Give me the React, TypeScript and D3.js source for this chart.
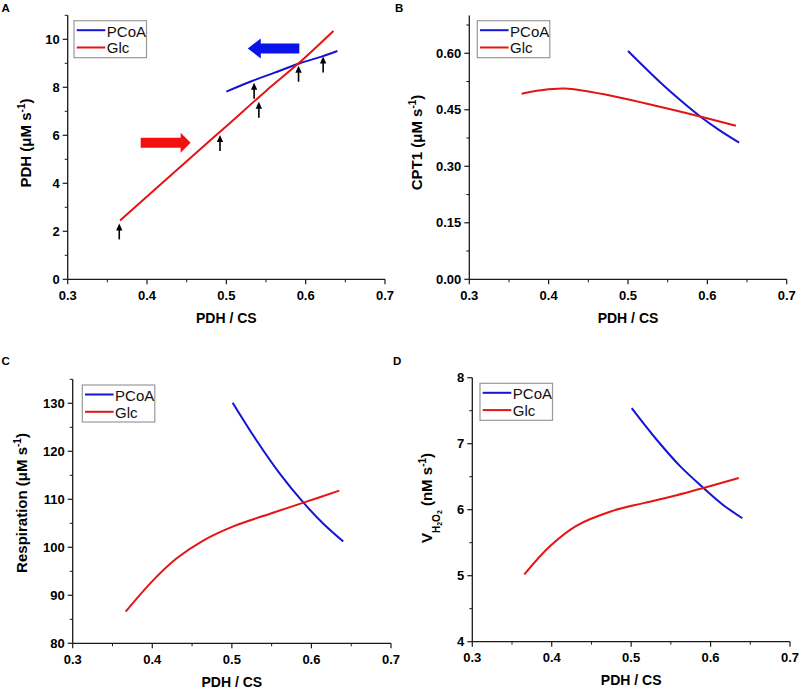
import React from "react";
import * as d3 from "d3";

// ---------- data ----------
const xTicks = [0.3, 0.4, 0.5, 0.6, 0.7];
const xMinorTicks = [0.35, 0.45, 0.55, 0.65];
const seriesNames = ["PCoA", "Glc"];
const xTitle = "PDH / CS";

// Panel A: PDH
const aPcoaX = [0.5, 0.53, 0.56, 0.591, 0.62, 0.64];
const aPcoaY = [7.82, 8.23, 8.6, 8.98, 9.28, 9.51];
const aGlcX = [0.366, 0.45, 0.5, 0.55, 0.591, 0.635];
const aGlcY = [2.45, 4.92, 6.38, 7.85, 9.0, 10.35];
const aYTicks = [0, 2, 4, 6, 8, 10];
const aYMinor = [1, 3, 5, 7, 9, 11];
const aYDomain = [0, 11];
const markerArrowX = [0.365, 0.492, 0.535, 0.541, 0.591, 0.622];
const markerArrowTipY = [2.33, 6.01, 8.19, 7.4, 8.9, 9.28];
const shiftArrowFromX = [0.392, 0.592];
const shiftArrowToX = [0.455, 0.527];
const shiftArrowY = [5.69, 9.62];

// Panel B: CPT1
const bPcoaX = [0.5, 0.5405, 0.565, 0.591, 0.615, 0.64];
const bPcoaY = [0.606, 0.523, 0.477, 0.432, 0.396, 0.363];
const bGlcX = [0.366, 0.39, 0.4207, 0.4774, 0.528, 0.591, 0.636];
const bGlcY = [0.4925, 0.502, 0.5066, 0.488, 0.464, 0.432, 0.4075];
const bYTicks = [0, 0.15, 0.3, 0.45, 0.6];
const bYMinor = [0.075, 0.225, 0.375, 0.525, 0.675];
const bYDomain = [0, 0.7];

// Panel C: Respiration
const cPcoaX = [0.501, 0.53, 0.56, 0.59, 0.615, 0.64];
const cPcoaY = [130.1, 122.5, 115.4, 109.3, 104.9, 101.2];
const cGlcX = [0.3666, 0.401, 0.4307, 0.464, 0.5018, 0.548, 0.59, 0.635];
const cGlcY = [86.6, 93.1, 97.7, 101.4, 104.35, 107.0, 109.3, 111.8];
const cYTicks = [80, 90, 100, 110, 120, 130];
const cYMinor = [85, 95, 105, 115, 125, 135];
const cYDomain = [80, 135];

// Panel D: V H2O2
const dPcoaX = [0.5007, 0.5322, 0.5616, 0.591, 0.615, 0.64];
const dPcoaY = [7.54, 7.06, 6.66, 6.33, 6.08, 5.87];
const dGlcX = [0.3655, 0.398, 0.4315, 0.4734, 0.5154, 0.5574, 0.591, 0.6355];
const dGlcY = [5.02, 5.45, 5.76, 5.97, 6.1, 6.22, 6.33, 6.48];
const dYTicks = [4, 5, 6, 7, 8];
const dYMinor = [4.5, 5.5, 6.5, 7.5];
const dYDomain = [4, 8];

// ---------- style ----------
const BLUE = "#1414d4";
const RED = "#e41414";
const ARROW_BLUE = "#0a14e8";
const ARROW_RED = "#f21010";
const FONT = "'Liberation Sans', Arial, sans-serif";

type PanelSpec = {
  letter: string;
  letterX: number;
  letterY: number;
  left: number;
  right: number;
  top: number;
  bottom: number;
  yDomain: number[];
  yTicks: number[];
  yMinor: number[];
  fmt: (v: number) => string;
  yTitleX: number;
  yTitleCY: number;
  yTitle: React.ReactNode;
  pcoa: [number[], number[]];
  glc: [number[], number[]];
  legendX: number;
  legendY: number;
  extras?: boolean;
};

const zip = (xs: number[], ys: number[]) => xs.map((v, i) => [v, ys[i]] as [number, number]);

const muTitle = (name: string) => (
  <>
    {name} (μM s
    <tspan dy={-6} fontSize={10}>-1</tspan>
    <tspan dy={6}>)</tspan>
  </>
);

const vTitle = (
  <>
    V
    <tspan dy={8} fontSize={10}>H</tspan>
    <tspan dy={2} fontSize={7}>2</tspan>
    <tspan dy={-2} fontSize={10}>O</tspan>
    <tspan dy={2} fontSize={7}>2</tspan>
    <tspan dy={-10}> (nM s</tspan>
    <tspan dy={-6} fontSize={10}>-1</tspan>
    <tspan dy={6}>)</tspan>
  </>
);

const panels: PanelSpec[] = [
  {
    letter: "A", letterX: 1.5, letterY: 12,
    left: 67.7, right: 385, top: 15.3, bottom: 279.3,
    yDomain: aYDomain, yTicks: aYTicks, yMinor: aYMinor, fmt: (v) => String(v),
    yTitleX: 31, yTitleCY: 143, yTitle: muTitle("PDH"),
    pcoa: [aPcoaX, aPcoaY], glc: [aGlcX, aGlcY],
    legendX: 74, legendY: 20.7, extras: true,
  },
  {
    letter: "B", letterX: 395, letterY: 12,
    left: 469.3, right: 786.7, top: 15.6, bottom: 279.3,
    yDomain: bYDomain, yTicks: bYTicks, yMinor: bYMinor, fmt: d3.format(".2f"),
    yTitleX: 421.5, yTitleCY: 142.5, yTitle: muTitle("CPT1"),
    pcoa: [bPcoaX, bPcoaY], glc: [bGlcX, bGlcY],
    legendX: 477.3, legendY: 20.7,
  },
  {
    letter: "C", letterX: 1.5, letterY: 365,
    left: 72.7, right: 391, top: 379.3, bottom: 643.3,
    yDomain: cYDomain, yTicks: cYTicks, yMinor: cYMinor, fmt: (v) => String(v),
    yTitleX: 27, yTitleCY: 503, yTitle: muTitle("Respiration"),
    pcoa: [cPcoaX, cPcoaY], glc: [cGlcX, cGlcY],
    legendX: 82.3, legendY: 385,
  },
  {
    letter: "D", letterX: 393, letterY: 365,
    left: 472.3, right: 790, top: 377.7, bottom: 641.7,
    yDomain: dYDomain, yTicks: dYTicks, yMinor: dYMinor, fmt: (v) => String(v),
    yTitleX: 431.5, yTitleCY: 498, yTitle: vTitle,
    pcoa: [dPcoaX, dPcoaY], glc: [dGlcX, dGlcY],
    legendX: 480, legendY: 383.3,
  },
];

function Panel({ p }: { p: PanelSpec }) {
  const x = d3.scaleLinear().domain([0.3, 0.7]).range([p.left, p.right]);
  const y = d3.scaleLinear().domain(p.yDomain).range([p.bottom, p.top]);
  const line = d3
    .line<[number, number]>()
    .x((d) => x(d[0]))
    .y((d) => y(d[1]))
    .curve(d3.curveCatmullRom.alpha(0.5));
  const axisColor = "#1a1a1a";
  const majorLen = 5;
  const minorLen = 3;
  const colors = [BLUE, RED];
  const series = [p.pcoa, p.glc];

  return (
    <g>
      <text x={p.letterX} y={p.letterY} fontSize={11.5} fontWeight="bold" fontFamily={FONT}>
        {p.letter}
      </text>
      {series.map((s, i) => (
        <path key={i} d={line(zip(s[0], s[1])) || ""} fill="none" stroke={colors[i]} strokeWidth={2} />
      ))}
      <line x1={p.left} x2={p.right} y1={p.bottom} y2={p.bottom} stroke={axisColor} strokeWidth={1.3} />
      <line x1={p.left} x2={p.left} y1={p.bottom} y2={y(p.yDomain[1])} stroke={axisColor} strokeWidth={1.3} />
      {xTicks.map((t) => (
        <g key={"xt" + t}>
          <line x1={x(t)} x2={x(t)} y1={p.bottom} y2={p.bottom + majorLen} stroke={axisColor} strokeWidth={1.2} />
          <text x={x(t)} y={p.bottom + 20.5} textAnchor="middle" fontSize={13} fontWeight="bold" fontFamily={FONT}>
            {t.toFixed(1)}
          </text>
        </g>
      ))}
      {xMinorTicks.map((t) => (
        <line key={"xm" + t} x1={x(t)} x2={x(t)} y1={p.bottom} y2={p.bottom + minorLen} stroke={axisColor} strokeWidth={1} />
      ))}
      {p.yTicks.map((t) => (
        <g key={"yt" + t}>
          <line x1={p.left - majorLen} x2={p.left} y1={y(t)} y2={y(t)} stroke={axisColor} strokeWidth={1.2} />
          <text x={p.left - 8} y={y(t)} dy="0.36em" textAnchor="end" fontSize={13} fontWeight="bold" fontFamily={FONT}>
            {p.fmt(t)}
          </text>
        </g>
      ))}
      {p.yMinor.map((t) => (
        <line key={"ym" + t} x1={p.left - minorLen} x2={p.left} y1={y(t)} y2={y(t)} stroke={axisColor} strokeWidth={1} />
      ))}
      <text
        x={(p.left + p.right) / 2}
        y={p.bottom + 43.7}
        textAnchor="middle"
        fontSize={14}
        fontWeight="bold"
        fontFamily={FONT}
      >
        {xTitle}
      </text>
      <text
        transform={`translate(${p.yTitleX},${p.yTitleCY}) rotate(-90)`}
        textAnchor="middle"
        fontSize={15}
        fontWeight="bold"
        fontFamily={FONT}
      >
        {p.yTitle}
      </text>
      <g transform={`translate(${p.legendX},${p.legendY})`}>
        <rect x={0} y={0} width={72.5} height={37} fill="white" stroke="#9a9a9a" strokeWidth={1.2} />
        {seriesNames.map((n, i) => (
          <g key={n}>
            <line x1={2.7} x2={31.3} y1={9.5 + i * 17.3} y2={9.5 + i * 17.3} stroke={colors[i]} strokeWidth={2} />
            <text x={32.8} y={16 + i * 16.8} fontSize={15} fontFamily={FONT} fill="#111">
              {n}
            </text>
          </g>
        ))}
      </g>
      {p.extras &&
        markerArrowX.map((ax, i) => {
          const tx = x(ax);
          const ty = y(markerArrowTipY[i]);
          return (
            <g key={"ma" + i}>
              <line x1={tx} x2={tx} y1={ty + 5} y2={ty + 16} stroke="#000" strokeWidth={1.6} />
              <path d={`M${tx},${ty} L${tx - 3.2},${ty + 7} L${tx + 3.2},${ty + 7} Z`} fill="#000" />
            </g>
          );
        })}
      {p.extras &&
        shiftArrowFromX.map((fx, i) => {
          const x0 = x(fx);
          const x1 = x(shiftArrowToX[i]);
          const cy = y(shiftArrowY[i]);
          const dir = x1 > x0 ? 1 : -1;
          const headLen = dir > 0 ? 10 : 13;
          const hb = x1 - dir * headLen;
          const d = `M${x0},${cy - 5} L${hb},${cy - 5} L${hb},${cy - 10} L${x1},${cy} L${hb},${cy + 10} L${hb},${cy + 5} L${x0},${cy + 5} Z`;
          return <path key={"sa" + i} d={d} fill={dir > 0 ? ARROW_RED : ARROW_BLUE} />;
        })}
    </g>
  );
}

export default function App() {
  return (
    <svg
      width={800}
      height={689}
      viewBox="0 0 800 689"
      style={{ position: "absolute", left: 0, top: 0, background: "white" }}
    >
      <rect x={0} y={0} width={800} height={689} fill="white" />
      {panels.map((p) => (
        <Panel key={p.letter} p={p} />
      ))}
    </svg>
  );
}
